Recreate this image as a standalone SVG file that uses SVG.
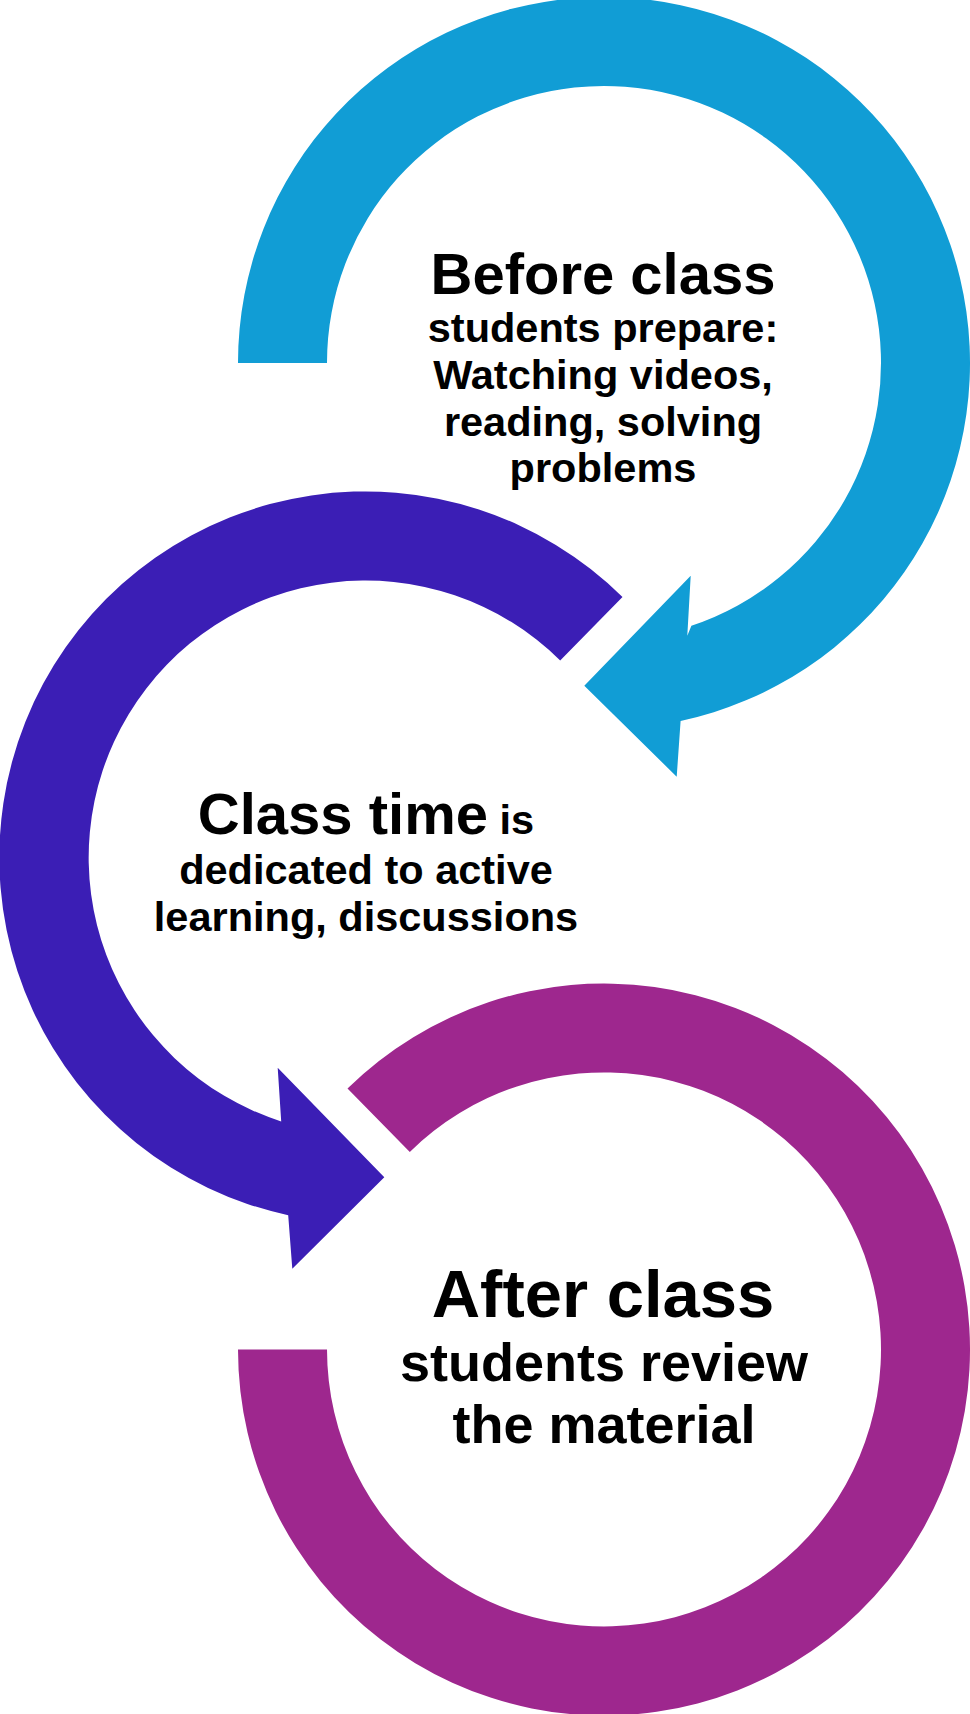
<svg xmlns="http://www.w3.org/2000/svg" width="970" height="1714" viewBox="0 0 970 1714">
  <style>
    text { font-family: "Liberation Sans", Arial, sans-serif; font-weight: bold; fill: #000000; text-anchor: middle; }
    .t1 { font-size: 58px; }
    .t2 { font-size: 41.5px; }
    .t3 { font-size: 67px; }
    .t4 { font-size: 54px; }
    .blue { fill: #119DD5; }
    .purple { fill: #3B1EB5; }
    .magenta { fill: #9E278E; }
  </style>
  <rect x="0" y="0" width="970" height="1714" fill="#FFFFFF"/>
  <g id="connectors">
    <path id="arrow-before" class="blue" d="M238,363 A366,366 0 1 1 680.6,720.9 L676.7,776.7 L584.3,685.7 L690.7,575.7 L687.3,635.7 L691.4,625.8 A277,277 0 1 0 327,363 Z"/>
    <path id="arrow-class" class="purple" d="M622.5,597 A366,366 0 1 0 288.2,1215.2 L292.3,1268.7 L384.3,1177.3 L277.7,1067.7 L281.2,1121.4 A277,277 0 1 1 560.2,660.4 Z"/>
    <path id="arrow-after" class="magenta" d="M238,1349.5 A366,366 0 1 0 347.5,1088.5 L409.8,1151.9 A277,277 0 1 1 327,1349.5 Z"/>
  </g>
  <g id="node-before">
    <text x="603" y="294" class="t1">Before class</text>
    <text x="603" y="342" class="t2">students prepare:</text>
    <text x="603" y="389" class="t2">Watching videos,</text>
    <text x="603" y="436" class="t2">reading, solving</text>
    <text x="603" y="482" class="t2">problems</text>
  </g>
  <g id="node-class">
    <text x="366" y="834"><tspan class="t1">Class time</tspan><tspan class="t2"> is</tspan></text>
    <text x="366" y="884" class="t2">dedicated to active</text>
    <text x="366" y="931" class="t2">learning, discussions</text>
  </g>
  <g id="node-after">
    <text x="603" y="1317" class="t3">After class</text>
    <text x="604" y="1381" class="t4">students review</text>
    <text x="604" y="1443" class="t4">the material</text>
  </g>
</svg>
